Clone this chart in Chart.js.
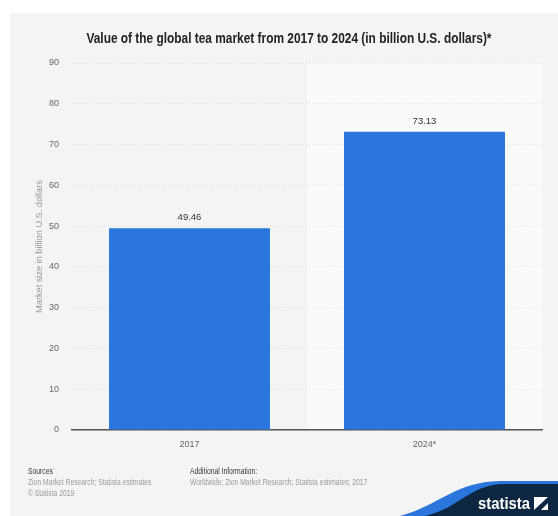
<!DOCTYPE html>
<html><head><meta charset="utf-8">
<script src="https://cdn.jsdelivr.net/npm/chart.js@4"></script>
<style>
html,body{margin:0;padding:0;background:#fff;width:558px;height:516px;overflow:hidden;font-family:"Liberation Sans",Arial,sans-serif;}
#bg{position:absolute;left:10px;top:13px;width:548px;height:503px;background:#f4f4f4;}
#wrap{position:absolute;left:0;top:0;width:558px;height:516px;}
#title{position:absolute;left:0;width:577px;top:29px;text-align:center;white-space:nowrap;}
#title span{display:inline-block;transform:scaleX(0.82);transform-origin:50% 50%;font-weight:bold;font-size:14.5px;line-height:16px;color:#222;}
.ft{position:absolute;font-size:9px;line-height:11px;color:#9a9a9a;white-space:nowrap;transform:scaleX(0.75);transform-origin:0 0;}
.ft b{font-weight:normal;color:#333;}
#logo{position:absolute;left:0;top:0;}
</style></head><body>
<div id="bg"></div>
<div id="wrap"><canvas id="c" width="558" height="516"></canvas></div>
<div id="title"><span id="tt"></span></div>
<div class="ft" style="left:28px;top:465.5px;"><b>Sources</b><br>Zion Market Research; Statista estimates<br>© Statista 2019</div>
<div class="ft" style="left:190px;top:465.5px;"><b>Additional Information:</b><br>Worldwide; Zion Market Research; Statista estimates; 2017</div>
<svg id="logo" width="558" height="516" viewBox="0 0 558 516">
  <path d="M400 516 C440 505 455 482 500 481 L558 481 L558 516 Z" fill="#2a76dd"/>
  <path d="M425 516 C460 508 470 484 505 484 L558 484 L558 516 Z" fill="#0e2740"/>
  <text x="478" y="509" fill="#fff" font-family="'Liberation Sans',sans-serif" font-weight="bold" font-size="16" textLength="52" lengthAdjust="spacingAndGlyphs">statista</text>
  <rect x="534" y="497" width="14" height="13" fill="#fff"/>
  <path d="M534 510 L548 497 L548 503 L541 510 Z" fill="#0e2740"/>
</svg>
<script>
const categories = ["2017", "2024*"];
const values = [49.46, 73.13];
const yTicks = [0, 10, 20, 30, 40, 50, 60, 70, 80, 90];
const titleText = "Value of the global tea market from 2017 to 2024 (in billion U.S. dollars)*";
const yTitle = "Market size in billion U.S. dollars";
document.getElementById('tt').textContent = titleText;

const FONT = '"Liberation Sans", Arial, sans-serif';

const bgPlugin = {
  id: 'bgp',
  beforeDraw(chart) {
    const {ctx, chartArea: a} = chart;
    ctx.save();
    const w = (a.right - a.left) / categories.length;
    ctx.fillStyle = '#fafafa';
    ctx.fillRect(a.left + w, a.top, a.right - a.left - w, a.bottom - a.top);
    ctx.restore();
  },
  afterDatasetsDraw(chart) {
    const {ctx} = chart;
    const meta = chart.getDatasetMeta(0);
    ctx.save();
    ctx.font = '9.5px ' + FONT;
    ctx.fillStyle = '#333';
    ctx.textAlign = 'center';
    ctx.textBaseline = 'middle';
    meta.data.forEach((bar, i) => {
      ctx.fillText(values[i].toFixed(2), bar.x, bar.y - 10.5);
    });
    ctx.restore();
  }
};

new Chart(document.getElementById('c'), {
  type: 'bar',
  data: {
    labels: categories,
    datasets: [{
      data: values,
      backgroundColor: '#2a76dd',
      categoryPercentage: 1,
      barPercentage: 0.685
    }]
  },
  options: {
    responsive: false,
    animation: false,
    events: [],
    layout: {padding: {left: 0, right: 16, top: 63, bottom: 56}},
    plugins: {
      legend: {display: false},
      tooltip: {enabled: false},
      title: {display: false}
    },
    scales: {
      x: {
        afterFit(s) { s.height = 30; },
        grid: {display: false, drawTicks: false},
        border: {display: true, color: '#555', width: 1.5},
        ticks: {color: '#666', font: {family: FONT, size: 9}, padding: 9}
      },
      y: {
        min: 0, max: 90,
        afterFit(s) { s.width = 72; },
        afterBuildTicks(s) { s.ticks = yTicks.map(v => ({value: v})); },
        grid: {color: '#dcdcdc', drawTicks: false, lineWidth: 1},
        border: {display: false, dash: [1, 2]},
        ticks: {color: '#666', font: {family: FONT, size: 9}, padding: 13},
        title: {
          display: true, text: yTitle, color: '#999',
          font: {family: FONT, size: 9.2},
          padding: {top: 34, bottom: 0}
        }
      }
    }
  },
  plugins: [bgPlugin]
});
</script>
</body></html>
